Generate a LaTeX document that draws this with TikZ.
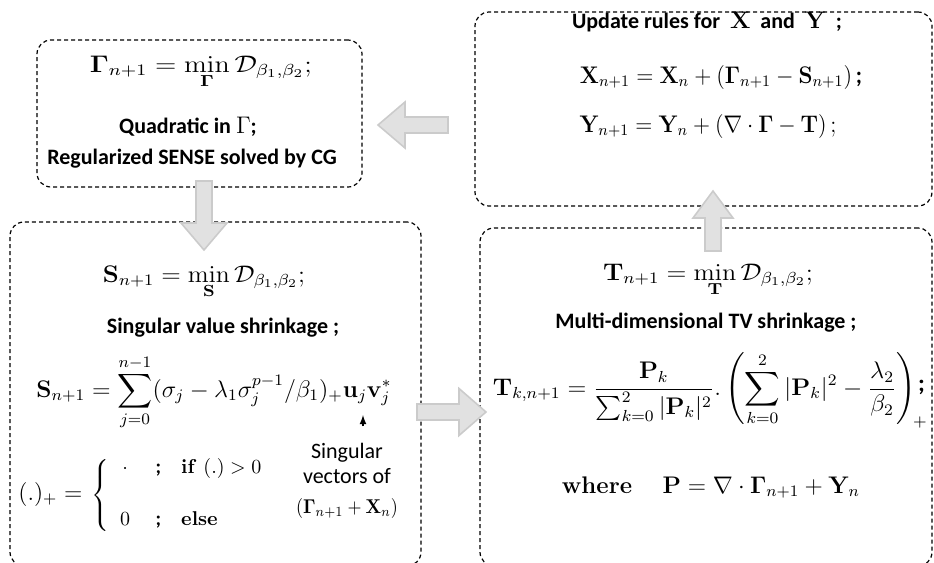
\documentclass[tikz,border=0pt]{standalone}
\usepackage{amsmath, amssymb}
\usepackage{graphicx}
\usepackage[no-math]{fontspec}
\newfontfamily\calibri{Carlito}
\usetikzlibrary{fit}
\definecolor{arrowfill}{HTML}{E1E1E1}
\definecolor{arrowedge}{HTML}{CBCBCB}
% equation stretched to a given width (pt), height kept
\newcommand{\fiteq}[2]{\resizebox{#1pt}{\height}{$\displaystyle #2$}}
\newcommand{\semi}{\mbox{\calibri\bfseries ;}}
\begin{document}
\begin{tikzpicture}[x=0.5pt, y=-0.5pt, >=latex,
		box/.style={draw, dash pattern=on 2pt off 1.5pt, line width=0.6pt, rounded corners=7pt, inner sep=0pt},
		arrowline/.style={draw=arrowedge, fill=arrowfill, line width=0.8pt, line join=miter},
		% Blockpfeil: Laenge/halbe Kopfbreite, Schaft 16, Kopf 27 lang
		pics/blockarrow/.style args={#1/#2}{code={
				\draw[arrowline] (0,-8) -- (#1-27,-8) -- (#1-27,-#2) -- (#1,0) -- (#1-27,#2) -- (#1-27,8) -- (0,8) -- cycle;
			}},
		bold/.style={font=\calibri\bfseries\fontsize{11}{13}\selectfont, inner sep=0pt, anchor=base},
		plain/.style={font=\calibri\fontsize{11}{13}\selectfont, inner sep=0pt, anchor=base},
		eq/.style={font=\large, inner sep=0pt, anchor=base}]
		\useasboundingbox (0,0) rectangle (934,563);
		% Kaesten
		\node[box, fit={(37,40) (362,187)}] (gbox) {};
		\node[box, fit={(475,12) (932,206)}] (ubox) {};
		\node[box, fit={(10,222) (421,566)}] (sbox) {};
		\node[box, fit={(480,228) (932,566)}] (tbox) {};
		% Gamma-Schritt
		\node[eq] (geq) at (201,72) {\fiteq{111}{\mathbf{\Gamma}_{n+1} = \min_{\mathbf{\Gamma}} \mathcal{D}_{\beta_1,\beta_2};}};
		\node[bold] (gq) at (188,133) {Quadratic in {\large$\Gamma$};};
		\node[bold] (gcg) at (192,164) {Regularized SENSE solved by CG};
		% Updates
		\node[bold] (ut) at (707,28) {Update rules for \ {\large$\mathbf{X}$} \ and \ {\large$\mathbf{Y}$} \ ;};
		\node[eq] (xeq) at (721,83) {\fiteq{141}{\mathbf{X}_{n+1} = \mathbf{X}_n + (\mathbf{\Gamma}_{n+1} - \mathbf{S}_{n+1})\,\semi}};
		\node[eq] (yeq) at (708,132) {\fiteq{128.5}{\mathbf{Y}_{n+1} = \mathbf{Y}_n + (\nabla\cdot\mathbf{\Gamma} - \mathbf{T})\,;}};
		% S-Schritt
		\node[eq] (seq) at (204,282) {\fiteq{101}{\mathbf{S}_{n+1} = \min_{\mathbf{S}} \mathcal{D}_{\beta_1,\beta_2};}};
		\node[bold] (st) at (223,333) {Singular value shrinkage ;};
		\node[eq] (ssum) at (214,397) {\fiteq{177.5}{\mathbf{S}_{n+1} = \sum_{j=0}^{n-1}(\sigma_j - \lambda_1\sigma_j^{p-1}/\beta_1)_+\mathbf{u}_j\mathbf{v}_j^*}};
		\node[plain] (sv1) at (347,458) {Singular};
		\node[plain] (sv2) at (347,483) {vectors of};
		\node[eq, font=\normalsize] (sv3) at (347,513) {\fiteq{51}{(\mathbf{\Gamma}_{n+1}+\mathbf{X}_n)}};
		\coordinate (svtip) at (363,415);
		\draw[->, line width=0.6pt] ([yshift=8pt]sv1.north -| svtip) -- (svtip);
		\node[eq, font=\normalsize, anchor=base west] (cases) at (18,500) {$\mbox{\large$(.)_+ =$}\; \left\{\begin{array}{@{\;\;}c@{\quad\;}c@{\quad}l}
				\cdot & \semi & \mathbf{if}\ (.)>0 \\[14pt]
				0 & \semi & \mathbf{else}
			\end{array}\right.$};
		% T-Schritt
		\node[eq] (teq) at (708,280) {\fiteq{105}{\mathbf{T}_{n+1} = \min_{\mathbf{T}} \mathcal{D}_{\beta_1,\beta_2};}};
		\node[bold] (tt) at (706,328) {Multi-dimensional TV shrinkage ;};
		\node[eq] (tform) at (709,395) {\fiteq{216}{\mathbf{T}_{k,n+1} = \frac{\mathbf{P}_k}{\sum_{k=0}^2|\mathbf{P}_k|^2}.\left(\sum_{k=0}^{2}|\mathbf{P}_k|^2 - \frac{\lambda_2}{\beta_2}\right)_{\!+}\mkern-10mu\raisebox{2pt}{\semi}}};
		\node[eq] (tw) at (711,493) {\fiteq{149}{\mathbf{where}\quad\; \mathbf{P} = \nabla\cdot\mathbf{\Gamma}_{n+1} + \mathbf{Y}_n}};
		% Pfeile
		\pic[rotate=180] (a1) at (448,125) {blockarrow={70/23}};
		\pic[rotate=-90] (a2) at (204,181) {blockarrow={69/23}};
		\pic (a3) at (417,412) {blockarrow={69/23.5}};
		\pic[rotate=90] (a4) at (713,251) {blockarrow={60/20}};
	\end{tikzpicture}
\end{document}
